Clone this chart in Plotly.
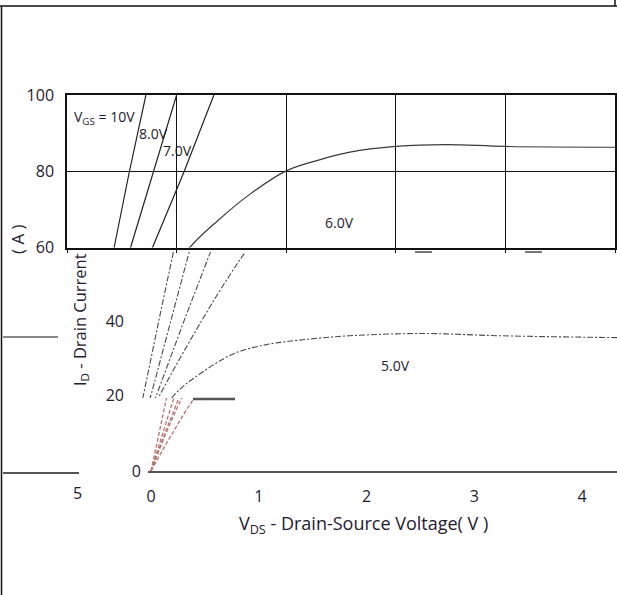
import plotly.graph_objects as go

# ---------------- data ----------------
VDS_10V = [0, 0.15, 0.29, 0.43, 0.57, 0.72]
ID_10V = [0, 20, 40, 60, 80, 100]

VDS_8V = [0, 0.11, 0.22, 0.40, 0.58, 0.79, 1.0]
ID_8V = [0, 10, 20, 40, 60, 80, 100]

VDS_7V = [0, 0.13, 0.27, 0.52, 0.78, 1.07, 1.34]
ID_7V = [0, 10, 20, 40, 60, 80, 100]

VDS_6V = [0, 0.14, 0.30, 0.68, 0.93, 1.12, 1.37, 1.67, 2.0, 2.28, 2.58, 3.0, 3.46, 4.0, 5.0]
ID_6V = [0, 10, 20, 40, 52, 60, 66.9, 74.0, 80.1, 82.8, 85.0, 86.5, 87.0, 86.5, 86.3]

VDS_5V = [0, 0.20, 0.43, 0.67, 0.97, 1.27, 1.6, 2.03, 2.70, 3.40, 4.47, 5.0]
ID_5V = [0, 10, 20, 25.8, 31.1, 33.6, 34.9, 36.0, 36.6, 36.0, 35.5, 35.4]

CURVE_NAMES = ["10V", "8.0V", "7.0V", "6.0V", "5.0V"]
CURVES = [(VDS_10V, ID_10V), (VDS_8V, ID_8V), (VDS_7V, ID_7V),
          (VDS_6V, ID_6V), (VDS_5V, ID_5V)]

X_TICKS = [0, 1, 2, 3, 4]
Y_TICKS_TOP = [60, 80, 100]
Y_TICKS_MID = [20, 40]
Y_TICKS_BOT = [0]

W, H = 617, 595
FONT = "Open Sans"
TXT = "#1e2030"


def px(x):
    return x / W


def py(y):
    return 1 - y / H


fig = go.Figure()

# top band (solid lines, gridded box)
for name, (xs, ys) in zip(CURVE_NAMES, CURVES):
    smooth = name in ("6.0V", "5.0V")
    fig.add_trace(go.Scatter(
        x=xs, y=ys, mode="lines", name=name, showlegend=False,
        line=dict(color="#222" if not smooth else "#3a3a3a", width=1.2,
                  shape="spline" if smooth else "linear"),
        xaxis="x", yaxis="y", hoverinfo="skip"))

# middle band (dash-dot lines)
for name, (xs, ys) in zip(CURVE_NAMES, CURVES):
    smooth = name in ("6.0V", "5.0V")
    fig.add_trace(go.Scatter(
        x=xs, y=ys, mode="lines", name=name, showlegend=False,
        line=dict(color="#4a4a4a", width=1.1, dash="6px,2px,2px,2px",
                  shape="spline" if smooth else "linear"),
        xaxis="x2", yaxis="y2", hoverinfo="skip"))

# bottom band (light dashed lines)
for name, (xs, ys) in zip(CURVE_NAMES, CURVES):
    smooth = name in ("6.0V", "5.0V")
    fig.add_trace(go.Scatter(
        x=xs, y=ys, mode="lines", name=name, showlegend=False,
        line=dict(color="#b87474", width=1.3, dash="4px,2px",
                  shape="spline" if smooth else "linear"),
        xaxis="x3", yaxis="y3", hoverinfo="skip"))

tickfont = dict(family=FONT, size=16, color=TXT)

fig.update_layout(
    width=W, height=H, autosize=False,
    margin=dict(l=0, r=0, t=0, b=0, pad=0, autoexpand=False),
    paper_bgcolor="white", plot_bgcolor="rgba(0,0,0,0)",
    showlegend=False,
    font=dict(family=FONT, color=TXT),
    # top band
    xaxis=dict(domain=[px(67), px(615)], range=[0, 5], anchor="y",
               tickvals=[0, 1, 2, 3, 4, 5], showticklabels=False,
               ticks="outside", ticklen=4, tickcolor="#111",
               showgrid=True, gridcolor="#111", gridwidth=1.3,
               showline=True, linecolor="#111", linewidth=1.5, mirror=True,
               zeroline=False, fixedrange=True),
    yaxis=dict(domain=[py(247.5), py(95)], range=[60, 100], anchor="x",
               tickvals=Y_TICKS_TOP, tickfont=tickfont, ticks="",
               ticklabelstandoff=8,
               showgrid=True, gridcolor="#111", gridwidth=1.3,
               showline=True, linecolor="#111", linewidth=1.5, mirror=True,
               zeroline=False, fixedrange=True),
    # middle band
    xaxis2=dict(domain=[px(125), 1], range=[-0.018, 4.47], anchor="y2",
                visible=False, fixedrange=True),
    yaxis2=dict(domain=[py(398), py(252)], range=[19.2, 58.6], anchor="x2",
                tickvals=Y_TICKS_MID, tickfont=tickfont, ticks="",
                showgrid=False, showline=False, zeroline=False, fixedrange=True),
    # bottom band
    xaxis3=dict(domain=[px(148), 1], range=[-0.028, 4.325], anchor="y3",
                tickvals=X_TICKS, tickfont=tickfont, ticks="",
                ticklabelstandoff=10,
                showgrid=False, showline=True, linecolor="#555", linewidth=2,
                zeroline=False, fixedrange=True),
    yaxis3=dict(domain=[py(471), py(398)], range=[0, 19.2], anchor="x3",
                tickvals=Y_TICKS_BOT, tickfont=tickfont, ticks="",
                ticklabelstandoff=6,
                showgrid=False, showline=False, zeroline=False, fixedrange=True),
)

ann = []
lab = dict(family=FONT, size=14, color=TXT)
C = dict(showarrow=False, xanchor="center", yanchor="middle")
ann.append(dict(x=0.05, y=94, xref="x", yref="y", text="V<sub>GS</sub> = 10V",
                showarrow=False, xanchor="left", yanchor="middle", font=lab))
ann.append(dict(x=0.64, y=89.8, xref="x", yref="y", text="8.0V",
                showarrow=False, xanchor="left", yanchor="middle", font=lab))
ann.append(dict(x=0.86, y=85.5, xref="x", yref="y", text="7.0V",
                showarrow=False, xanchor="left", yanchor="middle", font=lab))
ann.append(dict(x=2.49, y=66.5, xref="x", yref="y", text="6.0V", font=lab, **C))
ann.append(dict(x=2.45, y=28.0, xref="x2", yref="y2", text="5.0V", font=lab, **C))
# axis titles
ann.append(dict(x=px(363), y=py(524), xref="paper", yref="paper",
                text="V<sub>DS</sub> - Drain-Source Voltage( V )",
                font=dict(family=FONT, size=18, color=TXT), **C))
ann.append(dict(x=px(80), y=py(320), xref="paper", yref="paper",
                text="I<sub>D</sub> - Drain Current", textangle=-90,
                font=dict(family=FONT, size=16.5, color=TXT), **C))
ann.append(dict(x=px(17), y=py(239), xref="paper", yref="paper",
                text="( A )", textangle=-90,
                font=dict(family=FONT, size=17, color=TXT), **C))
ann.append(dict(x=px(77), y=py(493), xref="paper", yref="paper",
                text="5", font=tickfont, **C))
fig.update_layout(annotations=ann)

shapes = []


def seg(x0, y0, x1, y1, color, width):
    shapes.append(dict(type="line", xref="paper", yref="paper",
                       x0=px(x0), y0=py(y0), x1=px(x1), y1=py(y1),
                       line=dict(color=color, width=width)))


# page frame
seg(0, 6, 617, 6, "#111", 1.5)
seg(1.5, 6, 1.5, 595, "#111", 1.5)
seg(615, 0, 615, 6, "#111", 1.5)
# stray scan lines
seg(3, 337, 58, 337, "#8a8a8a", 2)
seg(3, 473, 79, 473, "#555", 2)
seg(193, 399, 235, 399, "#555", 2.5)
seg(415, 252, 432, 252, "#777", 2)
seg(525, 252, 542, 252, "#777", 2)
fig.update_layout(shapes=shapes)

post = ("document.documentElement.style.margin='0';"
        "document.body.style.margin='0';")
fig.write_html("out.html", config={"responsive": False, "displayModeBar": False},
               post_script=post)
